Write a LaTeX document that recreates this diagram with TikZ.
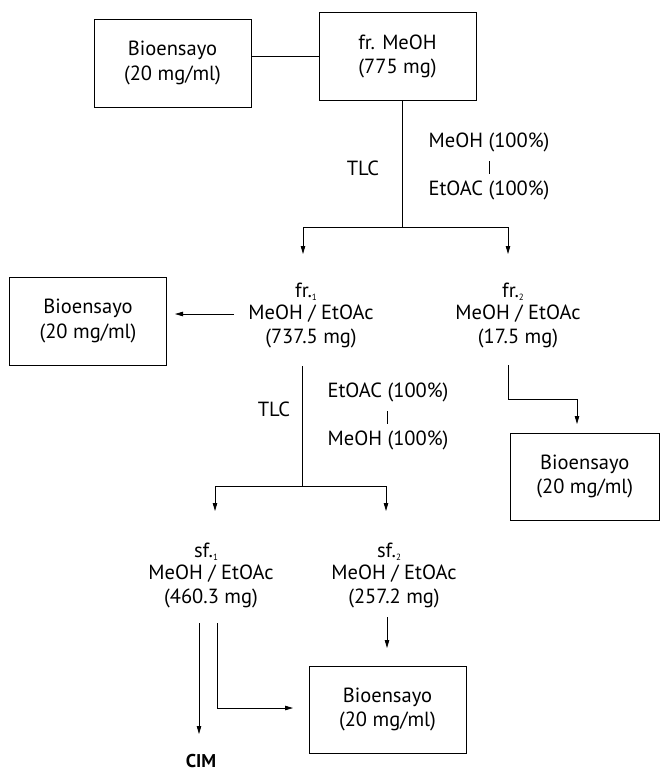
\documentclass[tikz,border=0pt]{standalone}
\usepackage{fontspec}
\setmainfont{PT Sans}
\usetikzlibrary{arrows.meta}
\newcommand{\subn}[1]{\raisebox{-3pt}{\fontsize{9}{9}\selectfont #1}}
\begin{document}
\begin{tikzpicture}[x=1pt,y=-1pt,
 txt/.style={anchor=base,font=\fontsize{20.5}{24}\selectfont,inner sep=0pt},
 box/.style={draw,line width=0.9pt,minimum width=157pt,minimum height=88pt,align=center,font=\fontsize{20.5}{24.5}\selectfont},
 conn/.style={line width=0.8pt},
 bar/.style={line width=0.6pt},
 arr/.style={conn,-{Triangle[length=8pt,width=4.5pt]}}]
\useasboundingbox (0,0) rectangle (660,772);

% top row
\node[box] (b1) at (172.5,63) {Bioensayo\\(20 mg/ml)};
\node[box] (b2) at (397.5,56.5) {fr. MeOH\\(775 mg)};
\draw[conn] (b2.west) -- (b1.east |- b2.west);

% first TLC
\coordinate (s1) at (402,227);
\coordinate (s1l) at (303,227);
\coordinate (s1r) at (508,227);
\coordinate (t1) at (303,254);
\coordinate (t2) at (508,254);
\draw[conn] (b2.south -| s1) -- (s1);
\draw[conn] (s1l) -- (s1r);
\draw[arr] (s1l) -- (t1);
\draw[arr] (s1r) -- (t2);
\node[txt] (tlc1) at (363,175) {TLC};
\node[txt] (e1a) at (489,147) {MeOH (100\%)};
\node[txt] (e1b) at (489,195) {EtOAC (100\%)};
\draw[bar] (489,161) -- (489,174);

% fractions
\node[txt] (fr1t) at (306,297) {fr.\subn{1}};
\node[txt] (fr1) at (311,319) {MeOH / EtOAc};
\node[txt] (fr1m) at (311,343) {(737.5 mg)};
\node[txt] (fr2t) at (513,297) {fr.\subn{2}};
\node[txt] (fr2) at (518,319) {MeOH / EtOAc};
\node[txt] (fr2m) at (518,343) {(17.5 mg)};
\node[box] (b3) at (88,321) {Bioensayo\\(20 mg/ml)};
\coordinate (a3) at (234,314);
\coordinate (a3e) at (175,314);
\draw[arr] (a3) -- (a3e);

% fr2 branch
\node[box,minimum width=149pt,minimum height=87pt] (b4) at (584.8,476.5) {Bioensayo\\(20 mg/ml)};
\coordinate (f2a) at (508,365);
\coordinate (f2b) at (508,399);
\coordinate (f2c) at (577,399);
\coordinate (f2d) at (577,424);
\draw[conn] (f2a) -- (f2b) -- (f2c);
\draw[arr] (f2c) -- (f2d);

% second TLC
\coordinate (v2a) at (302,366);
\coordinate (v2b) at (302,486);
\coordinate (v2l) at (215,486);
\coordinate (v2r) at (386,486);
\coordinate (t3) at (215,511);
\coordinate (t4) at (386,511);
\draw[conn] (v2a) -- (v2b);
\draw[conn] (v2l) -- (v2r);
\draw[arr] (v2l) -- (t3);
\draw[arr] (v2r) -- (t4);
\node[txt] (tlc2) at (274,416) {TLC};
\node[txt] (e2a) at (388,397) {EtOAC (100\%)};
\node[txt] (e2b) at (388,445) {MeOH (100\%)};
\draw[bar] (387,411) -- (387,424);

% subfractions
\node[txt] (sf1t) at (206,557) {sf.\subn{1}};
\node[txt] (sf1) at (211,579) {MeOH / EtOAc};
\node[txt] (sf1m) at (211,603) {(460.3 mg)};
\node[txt] (sf2t) at (389,557) {sf.\subn{2}};
\node[txt] (sf2) at (394,579) {MeOH / EtOAc};
\node[txt] (sf2m) at (394,603) {(257.2 mg)};
\node[box,minimum height=87pt] (b5) at (387.5,709.5) {Bioensayo\\(20 mg/ml)};
\node[txt,font=\fontsize{18.5}{20}\selectfont\bfseries] (cim) at (201,767) {CIM};

\coordinate (p1) at (199,623);
\coordinate (p2) at (199,734);
\draw[arr] (p1) -- (p2);
\coordinate (q1) at (217,623);
\coordinate (q2) at (217,708);
\coordinate (q3) at (293,708);
\draw[conn] (q1) -- (q2);
\draw[arr] (q2) -- (q3);
\coordinate (r1) at (387,617);
\coordinate (r2) at (387,648);
\draw[arr] (r1) -- (r2);
\end{tikzpicture}
\end{document}
